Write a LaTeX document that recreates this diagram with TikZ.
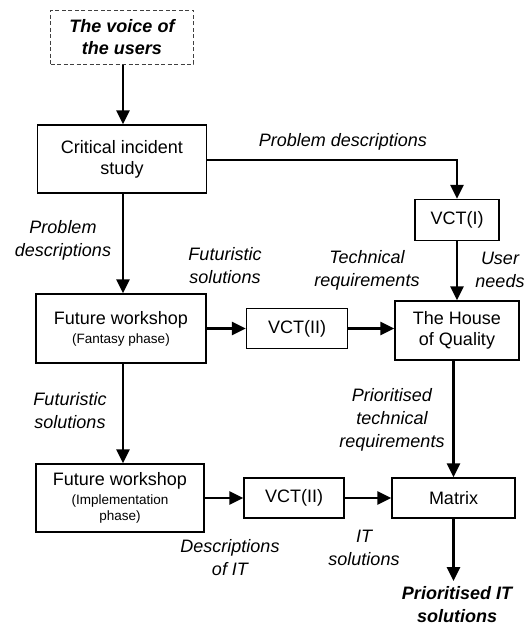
\documentclass[tikz,border=0pt]{standalone}
\usepackage{fontspec}
\setmainfont{Liberation Sans}
\usetikzlibrary{arrows.meta}
\begin{document}
\begin{tikzpicture}[x=1pt,y=-1pt,
  box/.style={draw,line width=1.3pt,align=center,inner sep=0pt,font=\fontsize{18}{21}\selectfont},
  lbl/.style={align=center,inner sep=0pt,font=\fontsize{18}{23}\selectfont\itshape},
  conn/.style={line width=2.6pt,-{Triangle[length=14pt,width=13pt]}},
  small/.style={font=\fontsize{13}{15}\selectfont}]
\useasboundingbox (0,0) rectangle (527,627);
\node[box,line width=1pt,draw=black!75,dash pattern=on 4pt off 2.5pt,minimum width=143pt,minimum height=54pt,font=\fontsize{18}{22}\selectfont\bfseries\itshape] (voice) at (122,37) {The voice of\\the users};
\node[box,minimum width=169pt,minimum height=68pt] (cis) at (122,159) {Critical incident\\study};
\node[box,minimum width=84pt,minimum height=41pt] (vct1) at (457,220) {VCT(I)};
\node[box,minimum width=170pt,minimum height=69pt] (fw1) at (121,328.5) {Future workshop\\[-2pt]{\fontsize{13.5}{15}\selectfont(Fantasy phase)}};
\node[box,minimum width=101pt,minimum height=40pt] (vct2a) at (297,328.5) {VCT(II)};
\node[box,minimum width=124pt,minimum height=59pt] (hoq) at (457,330.5) {The House\\of Quality};
\node[box,minimum width=168pt,minimum height=68pt] (fw2) at (120,498) {Future workshop\\[-2pt]{\fontsize{13.5}{15}\selectfont(Implementation}\\[-5pt]{\fontsize{13.5}{15}\selectfont phase)}};
\node[box,minimum width=100pt,minimum height=40pt] (vct2b) at (294,498) {VCT(II)};
\node[box,minimum width=123pt,minimum height=40pt] (matrix) at (453.5,498) {Matrix};
\coordinate (out) at (453.5,581);
% labels
\node[lbl] (l1) at (343,142) {Problem descriptions};
\node[lbl] (l2) at (63,240) {Problem\\descriptions};
\node[lbl] (l3) at (225,266) {Futuristic\\solutions};
\node[lbl] (l4) at (367,270) {Technical\\requirements};
\node[lbl] (l5) at (500,270) {User\\needs};
\node[lbl] (l6) at (70,411) {Futuristic\\solutions};
\node[lbl] (l7) at (392,420) {Prioritised\\technical\\requirements};
\node[lbl] (l8) at (230,558) {Descriptions\\of IT};
\node[lbl] (l9) at (364,548) {IT\\solutions};
\node[lbl,font=\fontsize{18}{23}\selectfont\bfseries\itshape] (l10) at (457,605) {Prioritised IT\\solutions};
% connectors
\draw[conn] (voice.south -| 123,0) -- (cis.north -| 123,0);
\draw[conn] (cis.south -| 123,0) -- (fw1.north -| 123,0);
\draw[conn] (fw1.south -| 123,0) -- (fw2.north -| 123,0);
\draw[conn] (cis.east |- 0,160) -| (vct1.north);
\draw[conn] (vct1.south) -- (hoq.north -| vct1.south);
\draw[conn] (fw1.east) -- (vct2a.west);
\draw[conn] (vct2a.east) -- (vct2a.east -| hoq.west);
\draw[conn] (hoq.south -| matrix.north) -- (matrix.north);
\draw[conn] (fw2.east |- vct2b.west) -- (vct2b.west);
\draw[conn] (vct2b.east) -- (matrix.west);
\draw[conn] (matrix.south) -- (out);
\end{tikzpicture}
\end{document}
